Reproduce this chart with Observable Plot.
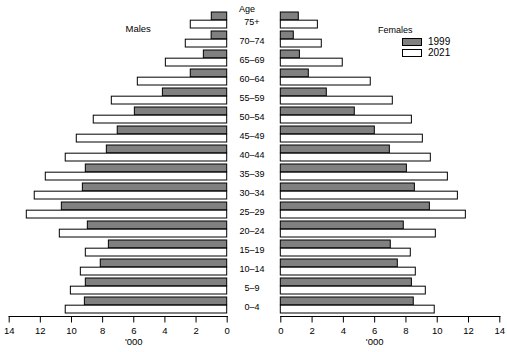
<!DOCTYPE html>
<html>
<head>
<meta charset="utf-8">
<script src="https://cdn.jsdelivr.net/npm/d3@7"></script>
<script src="https://cdn.jsdelivr.net/npm/@observablehq/plot@0.6"></script>
<style>
  body { margin: 0; background: #fff; }
  #wrap { position: relative; width: 507px; height: 352px; font-family: "Liberation Sans", Arial, sans-serif; }
  #wrap svg { position: absolute; top: 0; overflow: visible; }
  .leg { position: absolute; font-size: 10px; color: #000; display: flex; align-items: center; }
  .sw { width: 18px; height: 6px; border: 1px solid #000; margin-right: 6px; }
</style>
</head>
<body>
<div id="wrap"></div>
<script>
// Age groups, youngest first
const ages = ["0–4","5–9","10–14","15–19","20–24","25–29","30–34","35–39","40–44","45–49","50–54","55–59","60–64","65–69","70–74","75+"];
const years = ["1999", "2021"];
// Population ('000)
const males1999   = [9.14, 9.08, 8.12, 7.60, 8.95, 10.62, 9.27, 9.08, 7.73, 7.03, 5.93, 4.13, 2.34, 1.50, 1.00, 0.99];
const males2021   = [10.37, 10.04, 9.40, 9.08, 10.75, 12.87, 12.36, 11.65, 10.37, 9.66, 8.57, 7.41, 5.74, 3.94, 2.66, 2.34];
const females1999 = [8.50, 8.38, 7.48, 7.03, 7.86, 9.53, 8.57, 8.06, 6.97, 6.01, 4.73, 2.94, 1.79, 1.22, 0.83, 1.15];
const females2021 = [9.84, 9.27, 8.63, 8.31, 9.91, 11.83, 11.32, 10.68, 9.59, 9.08, 8.38, 7.16, 5.75, 3.96, 2.62, 2.37];
const xTicks = [0, 2, 4, 6, 8, 10, 12, 14];

const rows = (arr) => ages.map((a, i) => ({age: a, value: arr[i]}));
const m99 = rows(males1999), m21 = rows(males2021), f99 = rows(females1999), f21 = rows(females2021);

const H = 352, MT = 9, MB = 36, PAD = 0.14;
const step = (H - MT - MB) / (ages.length + PAD);
const half = step * (1 - PAD) / 2;
const yDomain = ages.slice().reverse();
const DARK = "#808080";

const common = {
  height: H, marginTop: MT, marginBottom: MB,
  style: {fontFamily: "Liberation Sans, Arial, sans-serif", fontSize: "10px", background: "transparent", color: "#000", overflow: "visible"},
  y: {domain: yDomain, padding: PAD, axis: null}
};

const left = Plot.plot({
  ...common,
  width: 240, marginLeft: 8.7, marginRight: 13.3,
  x: {domain: [0, 14], reverse: true},
  marks: [
    Plot.barX(m99, {x: "value", y: "age", fill: DARK, stroke: "#000", strokeWidth: 1, insetBottom: half}),
    Plot.barX(m21, {x: "value", y: "age", fill: "#fff", stroke: "#000", strokeWidth: 1, insetTop: half}),
    Plot.axisX({ticks: xTicks, tickSize: 6.5, tickPadding: 4, label: null, fontSize: 9.5}),
    Plot.frame({anchor: "bottom", stroke: "#000", strokeWidth: 1.2}),
    Plot.text(["'000"], {x: [6], frameAnchor: "bottom", dy: 28, fontSize: 9.5}),
    Plot.text(["Males"], {frameAnchor: "top-left", dx: 116.3, dy: 16, fontSize: 9.5})
  ]
});

const right = Plot.plot({
  ...common,
  width: 267, marginLeft: 40.3, marginRight: 7.7,
  x: {domain: [0, 14]},
  marks: [
    Plot.barX(f99, {x: "value", y: "age", fill: DARK, stroke: "#000", strokeWidth: 1, insetBottom: half}),
    Plot.barX(f21, {x: "value", y: "age", fill: "#fff", stroke: "#000", strokeWidth: 1, insetTop: half}),
    Plot.axisX({ticks: xTicks, tickSize: 6.5, tickPadding: 4, label: null, fontSize: 9.5}),
    Plot.frame({anchor: "bottom", stroke: "#000", strokeWidth: 1.2}),
    Plot.text(["'000"], {x: [6], frameAnchor: "bottom", dy: 28, fontSize: 9.5}),
    Plot.text(ages, {y: d => d, frameAnchor: "left", dx: -28.8, dy: 1.5, textAnchor: "middle", fontSize: 9}),
    Plot.text(["Age"], {frameAnchor: "top-left", dx: -33.8, dy: -4, textAnchor: "middle", fontSize: 9}),
    Plot.text(["Females"], {frameAnchor: "top-left", dx: 97.2, dy: 17, fontSize: 9})
  ]
});

const wrap = document.getElementById("wrap");
left.style.left = "0px";
right.style.left = "240px";
wrap.appendChild(left);
wrap.appendChild(right);

// Legend
const legendFills = [DARK, "#fff"];
years.forEach((yr, i) => {
  const d = document.createElement("div");
  d.className = "leg";
  d.style.left = "402px";
  d.style.top = (36 + i * 11) + "px";
  d.innerHTML = `<span class="sw" style="background:${legendFills[i]}"></span><span>${yr}</span>`;
  wrap.appendChild(d);
});
</script>
</body>
</html>
